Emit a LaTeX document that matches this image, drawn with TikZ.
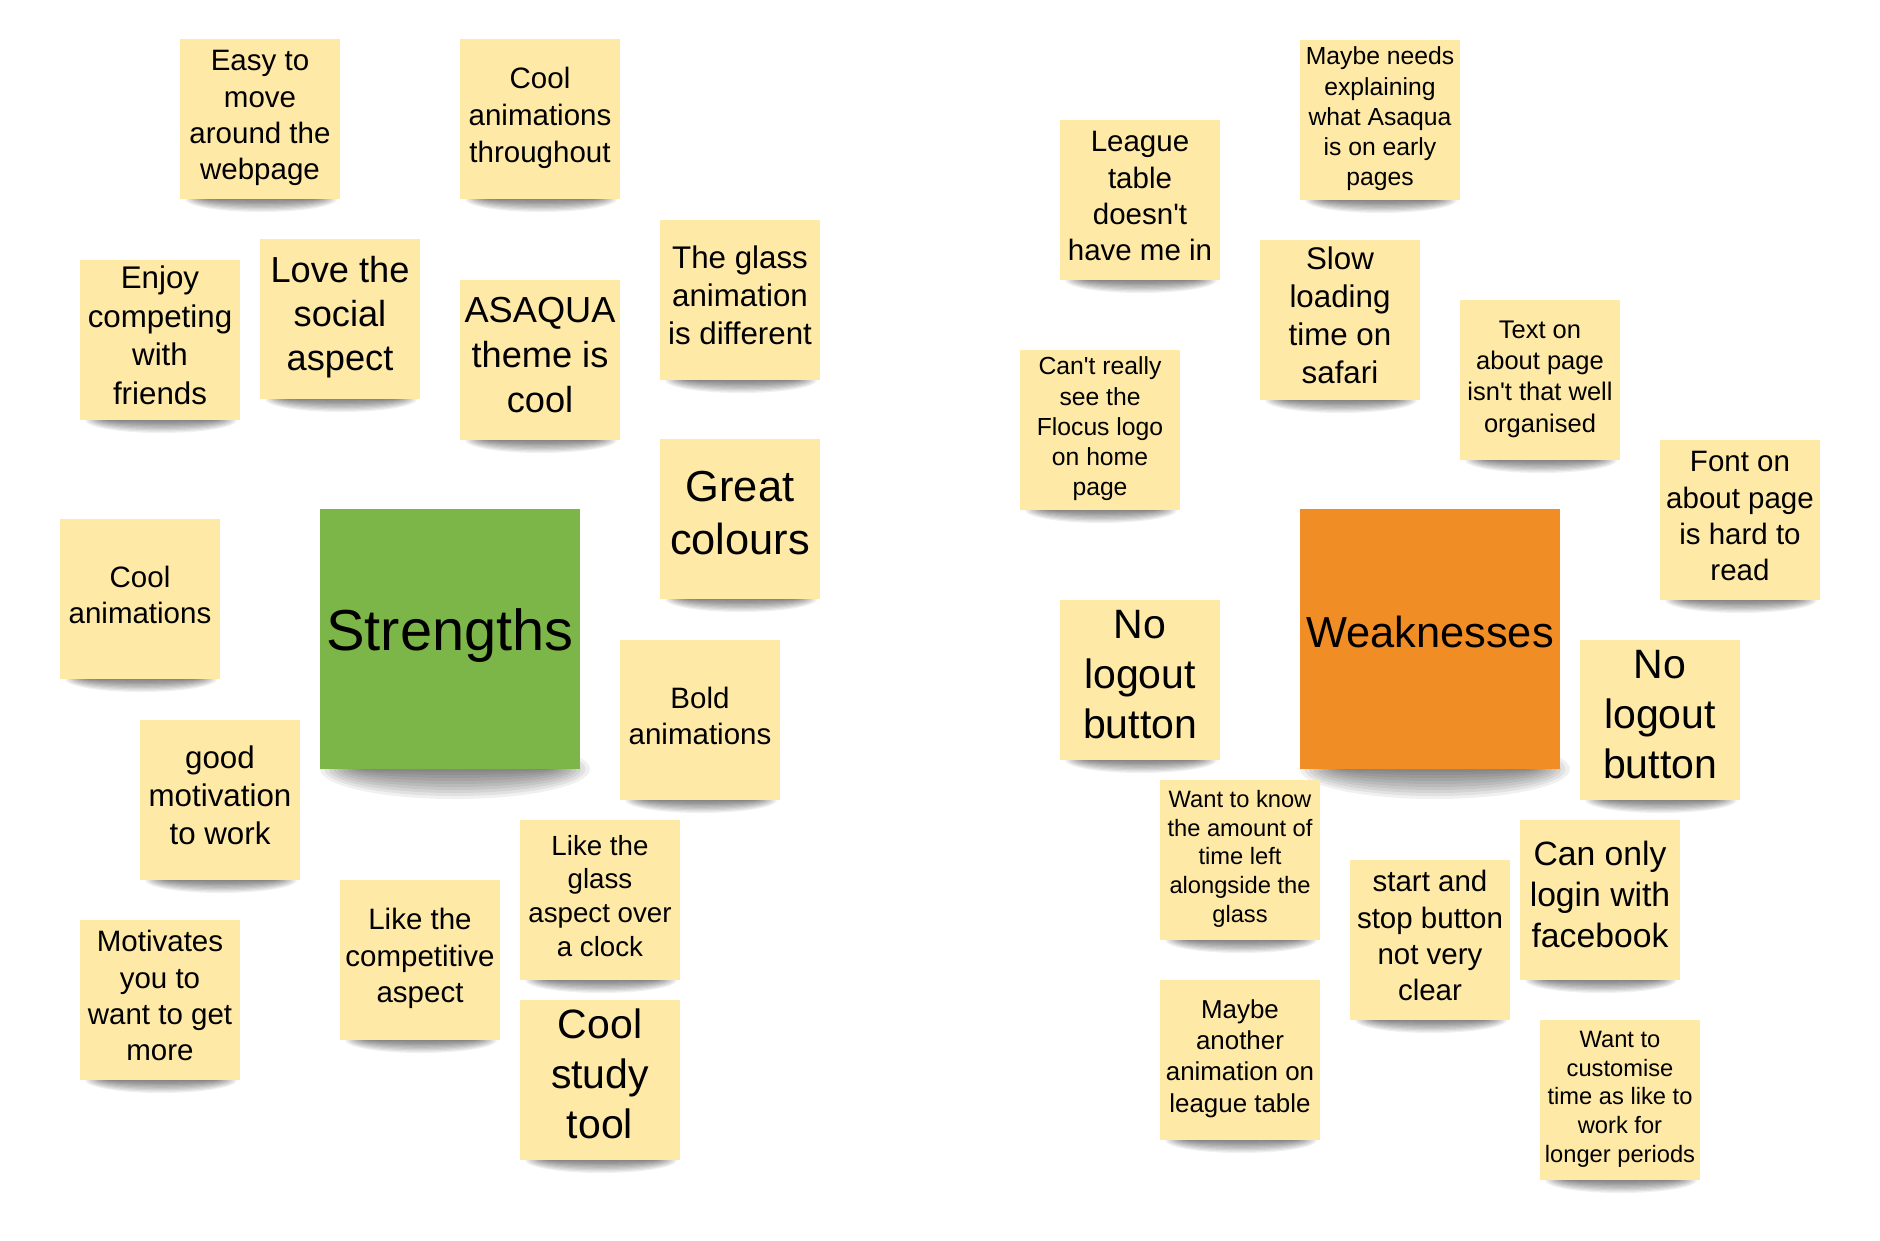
\documentclass[tikz,border=0pt]{standalone}
\usepackage{fontspec}
\newfontfamily\notefont{Liberation Sans}
\definecolor{notey}{RGB}{254,233,167}
\definecolor{strgreen}{RGB}{124,181,72}
\definecolor{weakorange}{RGB}{240,141,36}
\pgfdeclarelayer{bglayer}
\pgfdeclarelayer{shadowlayer}
\pgfsetlayers{bglayer,shadowlayer,main}
\newcommand\lnstrut{\rule[-0.33\baselineskip]{0pt}{\baselineskip}}
\tikzset{
  sticky/.style={fill=notey, minimum width=160pt, minimum height=160pt, inner sep=0pt, align=center, text=black},
  bigsticky/.style={minimum width=260pt, minimum height=260pt, inner sep=0pt, align=center, text=black},
  shadowpiece/.style={fill=black, fill opacity=0.06, draw=none},
}
\newcommand\mynote[6]{%
  \begin{pgfonlayer}{shadowlayer}
    \foreach \k in {1,...,10}{
      \fill[shadowpiece] (#2+81,#3+160) ellipse [x radius={52+2.4*\k}, y radius={1.3*\k}];
    }
  \end{pgfonlayer}
  \node[sticky, font=\notefont\fontsize{#4}{#5}\selectfont] (#1) at (#2+80,#3+80) {\lnstrut#6\lnstrut};
}
\newcommand\bigshadow[2]{%
  \begin{pgfonlayer}{shadowlayer}
    \foreach \k in {1,...,10}{
      \fill[shadowpiece] (#1+5,#2) ellipse [x radius={90+4.5*\k}, y radius={3*\k}];
    }
  \end{pgfonlayer}
}
\begin{document}
\begin{tikzpicture}[x=1pt,y=-1pt]
\begin{pgfonlayer}{bglayer}
  \fill[white] (0,0) rectangle (1880,1240);
\end{pgfonlayer}
\useasboundingbox (0,0) rectangle (1880,1240);

% ---------- Strengths ----------
\bigshadow{450}{769}
\node[bigsticky, fill=strgreen, font=\notefont\fontsize{57.8}{70}\selectfont] (strengths) at (450,639) {\lnstrut Strengths\lnstrut};

\mynote{s1}{180}{39}{29.5}{36.2}{Easy to\\move\\around the\\webpage}
\mynote{s2}{460}{39}{29.5}{36.8}{Cool\\animations\\throughout}
\mynote{s3}{80}{260}{31.3}{38.6}{Enjoy\\competing\\with\\friends}
\mynote{s4}{260}{239}{36.2}{44}{Love the\\social\\aspect}
\mynote{s5}{460}{280}{36.2}{44.6}{ASAQUA\\theme is\\cool}
\mynote{s6}{660}{220}{31.3}{38}{The glass\\animation\\is different}
\mynote{s7}{660}{439}{43.4}{53}{Great\\colours}
\mynote{s8}{60}{519}{29.5}{36.2}{Cool\\animations}
\mynote{s9}{620}{640}{29.5}{36.2}{Bold\\animations}
\mynote{s10}{140}{720}{31.3}{38}{good\\motivation\\to work}
\mynote{s11}{520}{820}{27.7}{33.7}{Like the\\glass\\aspect over\\a clock}
\mynote{s12}{340}{880}{29.5}{36.2}{Like the\\competitive\\aspect}
\mynote{s13}{80}{920}{29.5}{36.2}{Motivates\\you to\\want to get\\more}
\mynote{s14}{520}{1000}{41}{50}{Cool\\study\\tool}

% ---------- Weaknesses ----------
\bigshadow{1430}{769}
\node[bigsticky, fill=weakorange, font=\notefont\fontsize{43.4}{52.5}\selectfont] (weaknesses) at (1430,639) {\lnstrut Weaknesses\lnstrut};

\mynote{w1}{1300}{40}{24.7}{30.1}{Maybe needs\\explaining\\what Asaqua\\is on early\\pages}
\mynote{w2}{1060}{120}{29.5}{36.2}{League\\table\\doesn't\\have me in}
\mynote{w3}{1260}{240}{31.3}{38.2}{Slow\\loading\\time on\\safari}
\mynote{w4}{1460}{300}{25.5}{31.3}{Text on\\about page\\isn't that well\\organised}
\mynote{w5}{1020}{350}{24.7}{30.1}{Can't really\\see the\\Flocus logo\\on home\\page}
\mynote{w6}{1660}{440}{29.5}{36.2}{Font on\\about page\\is hard to\\read}
\mynote{w7}{1060}{600}{41}{50}{No\\logout\\button}
\mynote{w8}{1580}{640}{41}{50}{No\\logout\\button}
\mynote{w9}{1160}{780}{23.7}{28.9}{Want to know\\the amount of\\time left\\alongside the\\glass}
\mynote{w10}{1350}{860}{29.5}{36.2}{start and\\stop button\\not very\\clear}
\mynote{w11}{1520}{820}{33.7}{41}{Can only\\login with\\facebook}
\mynote{w12}{1160}{980}{25.9}{31.3}{Maybe\\another\\animation on\\league table}
\mynote{w13}{1540}{1020}{23.7}{28.9}{Want to\\customise\\time as like to\\work for\\longer periods}
\end{tikzpicture}
\end{document}
